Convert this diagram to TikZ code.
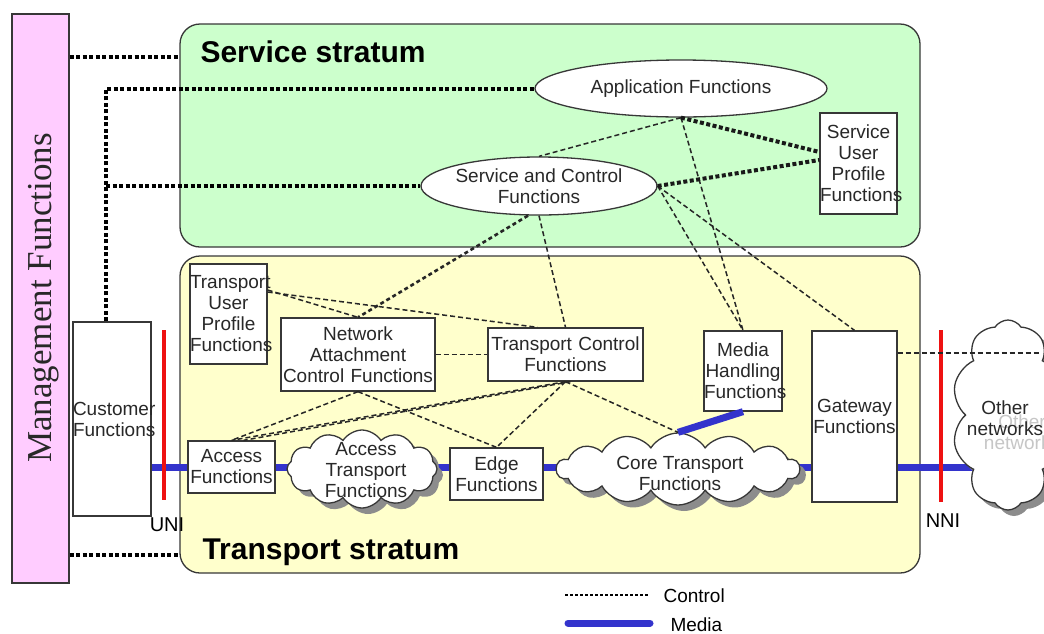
\documentclass[tikz,border=0pt]{standalone}
\usepackage{fontspec}
\setmainfont{Liberation Sans}
\newfontfamily\mgmtfont{Liberation Serif}
\usetikzlibrary{shapes.geometric,shapes.symbols,shadows,calc}
\pgfdeclarelayer{back}
\pgfdeclarelayer{mid}
\pgfsetlayers{back,mid,main}
\definecolor{pinkbar}{RGB}{255,204,255}
\definecolor{ssgreen}{RGB}{204,255,204}
\definecolor{tsyellow}{RGB}{255,255,204}
\definecolor{mediablue}{RGB}{51,51,204}
\definecolor{unired}{RGB}{238,17,17}
\definecolor{txt}{RGB}{40,40,40}
\definecolor{edgegray}{RGB}{55,55,55}
\begin{document}
\begin{tikzpicture}[x=1pt,y=-1pt,
  every node/.style={font=\fontsize{19}{21}\selectfont, text=txt},
  fbox/.style={draw=edgegray, line width=1.3pt, fill=white, rectangle, inner sep=0pt, align=center},
  fell/.style={draw=edgegray, line width=1.3pt, fill=white, ellipse, inner sep=0pt, align=center},
  fcloud/.style={cloud, cloud puffs=#1, cloud puff arc=115, cloud ignores aspect, draw=edgegray, line width=1.3pt, fill=white, inner sep=0pt, drop shadow={shadow xshift=6pt, shadow yshift=-6pt, fill=gray!90, opacity=1}},
  stratum/.style={draw=edgegray, line width=1.3pt, rounded corners=20pt, rectangle, inner sep=0pt},
  ctrl/.style={line width=1.5pt, dash pattern=on 5pt off 3pt, draw=black!85},
  ctrlmid/.style={line width=2.6pt, dash pattern=on 4pt off 3pt, draw=black!85},
  ctrlthick/.style={line width=4pt, dash pattern=on 4pt off 2.5pt, draw=black!90},
  mgmtline/.style={line width=4pt, dash pattern=on 4pt off 2.5pt, draw=black},
  media/.style={line width=7pt, draw=mediablue},
  iface/.style={line width=4pt, draw=unired},
  title/.style={font=\fontsize{30}{34}\selectfont\bfseries, text=black},
]
\useasboundingbox (0,0) rectangle (1044,633);

% strata
\begin{pgfonlayer}{back}
\node[stratum, fill=ssgreen, minimum width=740pt, minimum height=223pt] (ss) at (550,135.5) {};
\node[stratum, fill=tsyellow, minimum width=740pt, minimum height=317pt] (ts) at (550,414.5) {};
\end{pgfonlayer}
\node[title, anchor=base west] (sslbl) at (197,62) {Service stratum};
\node[title, anchor=base west] (tslbl) at (199,559) {Transport stratum};

% management bar
\node[fbox, minimum width=57pt, minimum height=569pt, fill=pinkbar] (mgmt) at (40.5,298.5) {};
\node[rotate=90, font=\mgmtfont\fontsize{35}{40}\selectfont] (mgmtlbl) at (44,298) {Management Functions};

% function nodes
\node[fbox, text width=78pt, minimum height=194pt] (cust) at (112,419) {Customer\\Functions};
\node[fbox, text width=77pt, minimum height=100pt] (tup) at (228.5,314) {Transport\\User\\Profile\\Functions};
\node[fbox, text width=154pt, minimum height=73pt] (nacf) at (358,354.5) {Network\\Attachment\\Control Functions};
\node[fbox, text width=155pt, minimum height=53pt] (tc) at (565.5,354.5) {Transport Control\\Functions};
\node[fbox, text width=78pt, minimum height=80pt] (mh) at (743,371) {Media\\Handling\\Functions};
\node[fbox, text width=85pt, minimum height=171pt] (gw) at (854.5,416.5) {Gateway\\Functions};
\node[fbox, text width=87pt, minimum height=52pt] (acc) at (231.5,467) {Access\\Functions};
\node[fbox, text width=93pt, minimum height=52pt] (edg) at (496.5,474) {Edge\\Functions};
\node[fbox, text width=77pt, minimum height=101pt] (sup) at (858.5,163.5) {Service\\User\\Profile\\Functions};
\node[fell, minimum width=292pt, minimum height=57pt] (app) at (681,88.5) {Application Functions};
\node[fell, minimum width=236pt, minimum height=58pt] (sc) at (539,186) {Service and Control\\Functions};

% clouds
\node[fcloud=12, minimum width=150pt, minimum height=78pt] (atc) at (362,469) {};
\node[align=center] (atclbl) at (366,470) {Access\\Transport\\Functions};
\node[fcloud=14, minimum width=243pt, minimum height=72pt] (core) at (678,469) {};
\node[align=center] (corelbl) at (680,473) {Core Transport\\Functions};
\node[fcloud=10, minimum width=112pt, minimum height=190pt] (oth) at (1008,415) {};
\node[align=center, text=gray!45] (othghost) at (1022,432) {Other\\networks};
\node[align=center] (othlbl) at (1005,418) {Other\\networks};

% media path
\coordinate (mL) at (0,467);
\begin{pgfonlayer}{mid}
\draw[media] (cust.east |- mL) -- (oth.center |- mL);
\end{pgfonlayer}
\draw[media] (mh.south) -- (core.north);

% interfaces
\coordinate (uniT) at (164,330);
\coordinate (uniB) at (164,500);
\draw[iface] (uniT) -- (uniB);
\node[font=\fontsize{20}{24}\selectfont, text=black] (uni) at (167,525) {UNI};
\coordinate (nniT) at (941,330);
\coordinate (nniB) at (941,502);
\draw[iface] (nniT) -- (nniB);
\node[font=\fontsize{20}{24}\selectfont, text=black] (nni) at (943,521) {NNI};

% management connectors
\coordinate (m1) at (0,57);
\coordinate (m4) at (0,555);
\coordinate (mj) at (106,186);
\draw[mgmtline] (mgmt.east |- m1) -- (ss.west |- m1);
\draw[mgmtline] ([xshift=-6pt]cust.north) |- (app.west);
\draw[mgmtline] (mj) -- (sc.west);
\draw[mgmtline] (mgmt.east |- m4) -- (ts.west |- m4);

% control connectors
\draw[ctrl] (app.south) -- (sc.north);
\draw[ctrl] (app.south) -- (mh.north);
\draw[ctrl] (sc.east) -- (mh.north);
\draw[ctrl] (sc.east) -- (gw.north);
\draw[ctrl] (sc.south) -- (tc.north);
\draw[ctrlmid] ([xshift=-11pt]sc.south) -- (nacf.north);
\draw[ctrlthick] (app.south) -- ([yshift=11.5pt]sup.west);
\draw[ctrlthick] (sc.east) -- ([yshift=3.5pt]sup.west);
\draw[ctrl] ([yshift=24pt]tup.east) -- (nacf.north);
\draw[ctrl] ([yshift=22pt]tup.east) -- ([xshift=-28pt]tc.north);
\draw[ctrl] (nacf.east) -- (tc.west);
\draw[ctrl] (nacf.south) -- (acc.north);
\draw[ctrl] (nacf.south) -- (edg.north);
\draw[ctrl] (tc.south) -- (acc.north);
\draw[ctrl] ([xshift=5pt]tc.south) -- ([xshift=12pt]acc.north);
\draw[ctrl] (tc.south) -- (edg.north);
\draw[ctrl] (tc.south) -- (core.north);
\coordinate (gwout) at (1040,353);
\draw[ctrl] (gw.east |- gwout) -- (gwout);

% legend
\coordinate (lg1) at (565,595);
\coordinate (lg2) at (648,595);
\draw[line width=1.3pt, dash pattern=on 3pt off 2pt, draw=black] (lg1) -- (lg2);
\node[anchor=base west, text=black] (lgc) at (660,602) {Control};
\coordinate (lm1) at (568,623);
\coordinate (lm2) at (650,623);
\draw[media, line cap=round] (lm1) -- (lm2);
\node[anchor=base west, text=black] (lgm) at (667,631) {Media};
\end{tikzpicture}
\end{document}
